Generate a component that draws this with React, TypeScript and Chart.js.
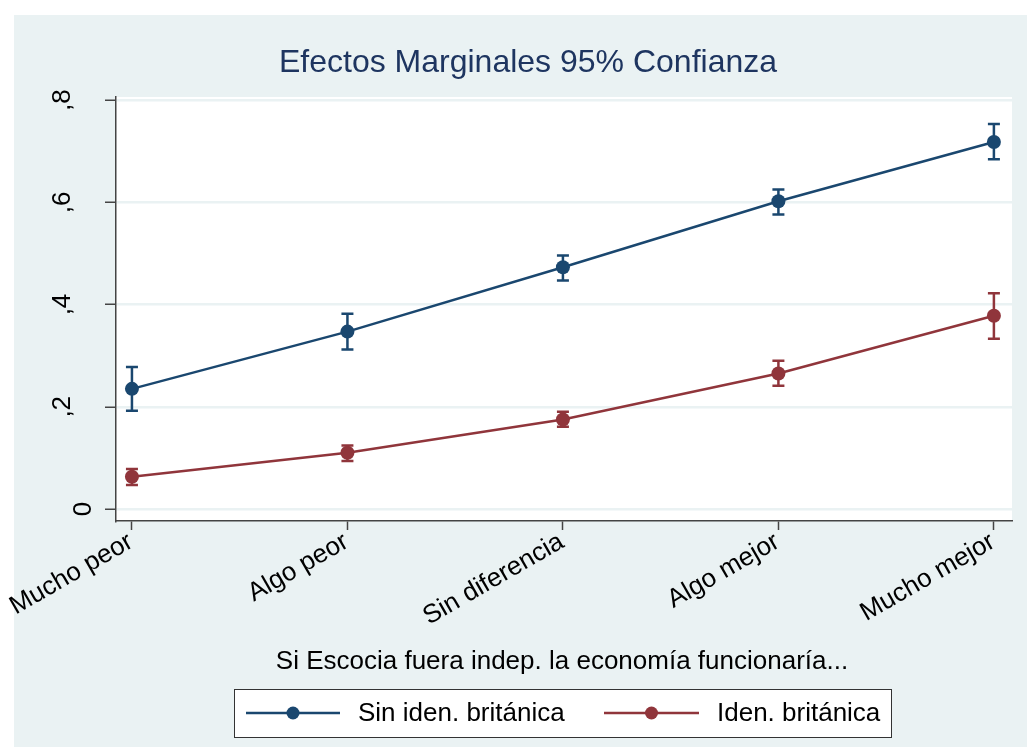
import React, { useEffect, useRef } from "react";
import { Chart, registerables } from "chart.js";

Chart.register(...registerables);

const categories = ["Mucho peor", "Algo peor", "Sin diferencia", "Algo mejor", "Mucho mejor"];
const sinIdenMean = [0.235, 0.347, 0.473, 0.602, 0.718];
const sinIdenLow = [0.192, 0.312, 0.447, 0.576, 0.684];
const sinIdenHigh = [0.278, 0.382, 0.496, 0.625, 0.753];
const idenMean = [0.063, 0.11, 0.175, 0.265, 0.378];
const idenLow = [0.047, 0.094, 0.161, 0.241, 0.333];
const idenHigh = [0.078, 0.124, 0.19, 0.29, 0.422];
const yTicks = [0, 0.2, 0.4, 0.6, 0.8];
const yTickLabels = ["0", ",2", ",4", ",6", ",8"];
const seriesNames = ["Sin iden. británica", "Iden. británica"];
const titleText = "Efectos Marginales 95% Confianza";
const xTitleText = "Si Escocia fuera indep. la economía funcionaría...";

const BLUE = "#1a476f";
const RED = "#90353b";
const TITLE = "#1e3560";
const BG = "#eaf2f3";
const AXIS = "#444444";
const FONT = "'Liberation Sans', Arial, sans-serif";

export default function App() {
  const ref = useRef<HTMLCanvasElement | null>(null);
  useEffect(() => {
    const canvas = ref.current;
    if (!canvas) return;
    const errBars = [
      { color: BLUE, low: sinIdenLow, high: sinIdenHigh },
      { color: RED, low: idenLow, high: idenHigh },
    ];
    const deco = {
      id: "deco",
      beforeDraw(chart: any) {
        const ctx = chart.ctx;
        const { left, top, right, bottom } = chart.chartArea;
        ctx.save();
        ctx.fillStyle = "#ffffff";
        ctx.fillRect(0, 0, chart.width, chart.height);
        ctx.fillStyle = BG;
        ctx.fillRect(14, 15, chart.width - 14, chart.height - 15);
        ctx.fillStyle = "#ffffff";
        ctx.fillRect(left, top, right - left, bottom - top);
        ctx.restore();
      },
      beforeDatasetsDraw(chart: any) {
        const ctx = chart.ctx;
        const xs = chart.scales.x;
        const ys = chart.scales.y;
        ctx.save();
        ctx.lineWidth = 2.5;
        errBars.forEach((eb) => {
          ctx.strokeStyle = eb.color;
          categories.forEach((_, i) => {
            const x = xs.getPixelForValue(i + 1);
            const y1 = ys.getPixelForValue(eb.low[i]);
            const y2 = ys.getPixelForValue(eb.high[i]);
            ctx.beginPath();
            ctx.moveTo(x, y1);
            ctx.lineTo(x, y2);
            ctx.moveTo(x - 6, y1);
            ctx.lineTo(x + 6, y1);
            ctx.moveTo(x - 6, y2);
            ctx.lineTo(x + 6, y2);
            ctx.stroke();
          });
        });
        ctx.restore();
      },
      afterDraw(chart: any) {
        const ctx = chart.ctx;
        const xs = chart.scales.x;
        const ys = chart.scales.y;
        ctx.save();
        // title
        ctx.fillStyle = TITLE;
        ctx.font = `32px ${FONT}`;
        ctx.textAlign = "center";
        ctx.textBaseline = "middle";
        ctx.fillText(titleText, 528, 63);
        // y tick labels (rotated)
        ctx.fillStyle = "#000000";
        ctx.font = `26px ${FONT}`;
        yTicks.forEach((v, i) => {
          const y = ys.getPixelForValue(v);
          const lab = yTickLabels[i];
          const bx = lab.indexOf(",") >= 0 ? 70 : 91;
          ctx.save();
          ctx.translate(bx, y);
          ctx.rotate(-Math.PI / 2);
          ctx.textAlign = "center";
          ctx.textBaseline = "alphabetic";
          ctx.fillText(lab, 0, 0);
          ctx.restore();
        });
        // x tick labels
        categories.forEach((c, i) => {
          const x = xs.getPixelForValue(i + 1);
          ctx.save();
          ctx.translate(x - 1, 540);
          ctx.rotate(-Math.PI / 6);
          ctx.textAlign = "right";
          ctx.textBaseline = "middle";
          ctx.fillText(c, 0, 0);
          ctx.restore();
        });
        // x title
        ctx.textAlign = "center";
        ctx.textBaseline = "middle";
        ctx.fillText(xTitleText, 562, 662);
        // legend
        const lx = 234, ly = 689, lw = 657, lh = 48;
        ctx.fillStyle = "#ffffff";
        ctx.fillRect(lx, ly, lw, lh);
        ctx.strokeStyle = "#333333";
        ctx.lineWidth = 1;
        ctx.strokeRect(lx + 0.5, ly + 0.5, lw, lh);
        const cy = 713;
        const items = [
          { color: BLUE, x0: 246, x1: 340, tx: 358 },
          { color: RED, x0: 604, x1: 699, tx: 717 },
        ];
        items.forEach((it, i) => {
          ctx.strokeStyle = it.color;
          ctx.lineWidth = 2.5;
          ctx.beginPath();
          ctx.moveTo(it.x0, cy);
          ctx.lineTo(it.x1, cy);
          ctx.stroke();
          ctx.fillStyle = it.color;
          ctx.beginPath();
          ctx.arc((it.x0 + it.x1) / 2, cy, 6.5, 0, Math.PI * 2);
          ctx.fill();
          ctx.fillStyle = "#000000";
          ctx.font = `26px ${FONT}`;
          ctx.textAlign = "left";
          ctx.textBaseline = "middle";
          ctx.fillText(seriesNames[i], it.tx, cy + 1);
        });
        ctx.restore();
      },
    };

    const chart = new Chart(canvas, {
      type: "line",
      data: {
        datasets: [
          {
            label: seriesNames[0],
            data: sinIdenMean.map((v, i) => ({ x: i + 1, y: v })),
            borderColor: BLUE,
            backgroundColor: BLUE,
            borderWidth: 2.5,
            pointRadius: 7,
            pointBorderWidth: 0,
            pointBackgroundColor: BLUE,
            fill: false,
            tension: 0,
          },
          {
            label: seriesNames[1],
            data: idenMean.map((v, i) => ({ x: i + 1, y: v })),
            borderColor: RED,
            backgroundColor: RED,
            borderWidth: 2.5,
            pointRadius: 7,
            pointBorderWidth: 0,
            pointBackgroundColor: RED,
            fill: false,
            tension: 0,
          },
        ],
      },
      options: {
        responsive: false,
        animation: false,
        events: [],
        layout: { padding: { top: 97, right: 15, bottom: 0, left: 0 } },
        plugins: {
          legend: { display: false },
          title: { display: false },
          tooltip: { enabled: false },
        },
        scales: {
          x: {
            type: "linear",
            min: 0.926,
            max: 5.084,
            afterBuildTicks: (scale: any) => {
              scale.ticks = categories.map((_, i) => ({ value: i + 1 }));
            },
            afterFit: (scale: any) => {
              scale.height = 226;
            },
            ticks: { display: false },
            grid: {
              drawOnChartArea: false,
              drawTicks: true,
              tickLength: 9,
              tickColor: AXIS,
              tickWidth: 1.5,
            },
            border: { display: true, color: AXIS, width: 1.5 },
          },
          y: {
            type: "linear",
            min: -0.0235,
            max: 0.806,
            afterBuildTicks: (scale: any) => {
              scale.ticks = yTicks.map((v) => ({ value: v }));
            },
            afterFit: (scale: any) => {
              scale.width = 116;
            },
            ticks: { display: false },
            grid: {
              color: BG,
              lineWidth: 2.5,
              drawTicks: true,
              tickLength: 11,
              tickColor: AXIS,
              tickWidth: 1.5,
            },
            border: { display: true, color: AXIS, width: 1.5 },
          },
        },
      },
      plugins: [deco],
    } as any);
    return () => chart.destroy();
  }, []);

  return (
    <div style={{ position: "fixed", left: 0, top: 0, width: 1027, height: 747 }}>
      <canvas ref={ref} width={1027} height={747} style={{ display: "block" }} />
    </div>
  );
}
